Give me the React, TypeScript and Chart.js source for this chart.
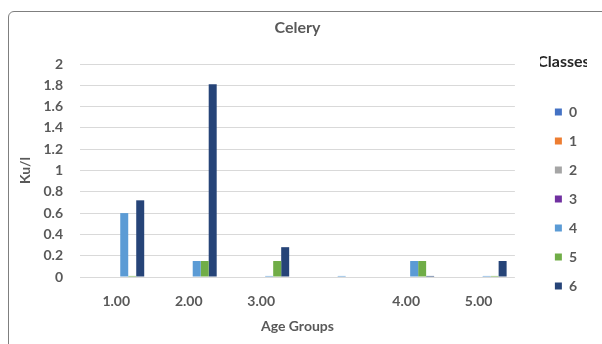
import React, { useEffect, useRef } from "react";
import { Chart, registerables } from "chart.js";

Chart.register(...registerables);

// ---- Data ----
const chartTitle = "Celery";
const xAxisTitle = "Age Groups";
const yAxisTitle = "Ku/l";
const legendTitle = "Classes";
const categories = ["1.00", "2.00", "3.00", "", "4.00", "5.00"];
const classNames = ["0", "1", "2", "3", "4", "5", "6"];
const class0 = [0, 0, 0, 0, 0, 0];
const class1 = [0, 0, 0, 0, 0, 0];
const class2 = [0, 0, 0, 0, 0, 0];
const class3 = [0, 0, 0, 0, 0, 0];
const class4 = [0.6, 0.15, 0.01, 0.01, 0.15, 0.01];
const class5 = [0.01, 0.15, 0.15, 0, 0.15, 0.01];
const class6 = [0.72, 1.81, 0.28, 0, 0.01, 0.15];
const classColors = ["#4472C4", "#ED7D31", "#A5A5A5", "#7030A0", "#5B9BD5", "#70AD47", "#264478"];
const yMin = 0;
const yMax = 2;
const yStep = 0.2;

const seriesValues = [class0, class1, class2, class3, class4, class5, class6];

export default function App() {
  const canvasRef = useRef<HTMLCanvasElement | null>(null);

  useEffect(() => {
    if (!canvasRef.current) return;
    Chart.defaults.font.family = "Lato";
    const textGrey = "#595959";
    const chart = new Chart(canvasRef.current, {
      type: "bar",
      data: {
        labels: categories,
        datasets: seriesValues.map((vals, i) => ({
          label: classNames[i],
          data: vals,
          backgroundColor: classColors[i],
          borderWidth: 0,
          barPercentage: 1,
          categoryPercentage: 0.772,
          yAxisID: "y",
        })),
      },
      options: {
        animation: false,
        responsive: false,
        layout: { padding: { left: 0, right: 16, top: 0, bottom: 0 } },
        plugins: {
          title: {
            display: true,
            text: chartTitle,
            fullSize: false,
            color: textGrey,
            font: { size: 16, weight: "bold" },
            padding: { top: 6.4, bottom: 26.4 },
          },
          legend: {
            position: "right",
            align: "start",
            title: {
              display: true,
              text: legendTitle,
              color: "#262626",
              font: { size: 16, weight: "bold" },
              padding: { top: 42, bottom: 16.8 },
            },
            labels: {
              boxWidth: 7,
              boxHeight: 7,
              padding: 15,
              color: textGrey,
              font: { size: 14, weight: "bold" },
            },
          },
          tooltip: { enabled: false },
        },
        scales: {
          x: {
            grid: { display: false, drawTicks: false },
            border: { display: false },
            ticks: {
              color: textGrey,
              font: { size: 14, weight: "bold" },
              padding: 16,
              maxRotation: 0,
              autoSkip: false,
            },
            title: {
              display: true,
              text: xAxisTitle,
              color: textGrey,
              font: { size: 14, weight: "bold" },
              padding: { top: 0, bottom: 9.6 },
            },
            afterFit: (s: any) => {
              s.height = 67;
            },
          },
          y: {
            min: yMin,
            max: yMax,
            ticks: {
              stepSize: yStep,
              autoSkip: false,
              color: textGrey,
              font: { size: 14, weight: "bold" },
              padding: 17,
              callback: (v: any) => String(Number(Number(v).toFixed(1))),
            },
            grid: { color: "#D9D9D9", drawTicks: false, lineWidth: 1 },
            border: { display: false },
            title: {
              display: true,
              text: yAxisTitle,
              color: textGrey,
              font: { size: 14, weight: "bold" },
              padding: { top: 7.6, bottom: 0 },
            },
            afterFit: (s: any) => {
              s.width = 71;
            },
          },
          yR: {
            type: "linear",
            position: "right",
            display: true,
            grid: { display: false, drawTicks: false },
            border: { display: false },
            ticks: { display: false },
            afterFit: (s: any) => {
              s.width = 25;
            },
          },
        },
      } as any,
    });
    return () => chart.destroy();
  }, []);

  return (
    <div
      style={{
        position: "fixed",
        left: 8,
        top: 11,
        width: 640,
        height: 380,
        border: "1px solid #7f7f7f",
        borderRadius: 6,
        background: "#fff",
        boxSizing: "border-box",
        overflow: "hidden",
      }}
    >
      <canvas ref={canvasRef} width={594} height={332} style={{ display: "block", width: 594, height: 332 }} />
    </div>
  );
}
